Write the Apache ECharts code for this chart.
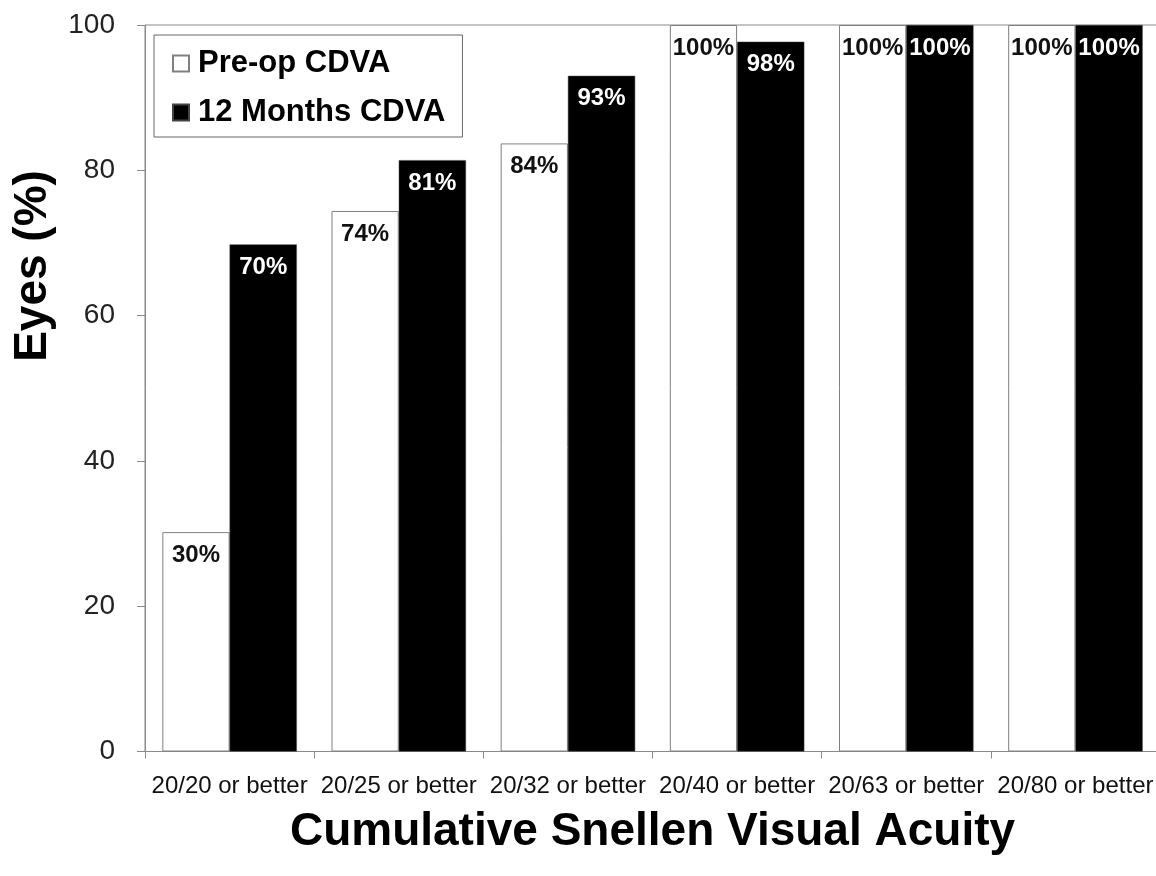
<!DOCTYPE html>
<html>
<head>
<meta charset="utf-8">
<script src="https://cdn.jsdelivr.net/npm/echarts@6/dist/echarts.min.js"></script>
<style>
html,body{margin:0;padding:0;background:#fff;}
#chart{width:1156px;height:876px;}
</style>
</head>
<body>
<div id="chart"></div>
<script>
const categories = ['20/20 or better', '20/25 or better', '20/32 or better', '20/40 or better', '20/63 or better', '20/80 or better'];
const preopValues = [30.2, 74.4, 83.7, 100, 100, 100];
const months12Values = [69.8, 81.4, 93.0, 97.7, 100, 100];
const seriesNames = ['Pre-op CDVA', '12 Months CDVA'];
const yTitle = 'Eyes (%)';
const xTitle = 'Cumulative Snellen Visual Acuity';

const FONT = '"Liberation Sans", Arial, Helvetica, sans-serif';
const chart = echarts.init(document.getElementById('chart'), null, {renderer: 'canvas'});

const option = {
  backgroundColor: '#fff',
  animation: false,
  grid: {
    left: 145, top: 25, width: 1015, height: 726.5,
    containLabel: false,
    outerBoundsMode: 'none',
    show: true, borderColor: '#8a8a8a', borderWidth: 1, backgroundColor: 'transparent'
  },
  legend: {
    orient: 'vertical',
    left: 154, top: 35,
    padding: [13, 17, 9, 18],
    itemGap: 18,
    itemWidth: 16, itemHeight: 16,
    icon: 'rect',
    borderColor: '#666', borderWidth: 1,
    textStyle: {fontFamily: FONT, fontSize: 31, fontWeight: 'bold', color: '#000', padding: [0, 0, 0, 4]},
    data: seriesNames
  },
  xAxis: {
    type: 'category',
    data: categories,
    axisLine: {lineStyle: {color: '#8a8a8a', width: 1}},
    axisTick: {show: true, length: 7, lineStyle: {color: '#8a8a8a'}},
    axisLabel: {fontFamily: FONT, fontSize: 24, color: '#111', margin: 23, interval: 0},
    name: xTitle,
    nameLocation: 'middle',
    nameGap: 58,
    nameTextStyle: {fontFamily: FONT, fontSize: 46, fontWeight: 'bold', color: '#000'}
  },
  yAxis: {
    type: 'value',
    min: 0, max: 100, interval: 20,
    axisLine: {show: true, lineStyle: {color: '#8a8a8a', width: 1}},
    axisTick: {show: true, length: 8, lineStyle: {color: '#8a8a8a'}},
    splitLine: {show: false},
    axisLabel: {fontFamily: FONT, fontSize: 28, color: '#222', margin: 30}
  },
  graphic: [{
    type: 'text',
    x: 33, y: 266,
    rotation: Math.PI / 2,
    style: {
      text: yTitle,
      font: 'bold 46px ' + FONT,
      fill: '#000',
      align: 'center', verticalAlign: 'middle',
      textAlign: 'center', textVerticalAlign: 'middle'
    }
  }],
  series: [
    {
      name: seriesNames[0],
      type: 'bar',
      data: preopValues,
      barGap: '0%',
      barCategoryGap: '20.5%',
      itemStyle: {color: '#fff', borderColor: '#808080', borderWidth: 1},
      label: {
        show: true, position: 'insideTop', distance: 11,
        fontFamily: FONT, fontSize: 24, fontWeight: 'bold', color: '#111',
        formatter: p => Math.round(p.value) + '%'
      }
    },
    {
      name: seriesNames[1],
      type: 'bar',
      data: months12Values,
      barGap: '0%',
      barCategoryGap: '20.5%',
      itemStyle: {color: '#000', borderColor: '#444', borderWidth: 0.5},
      label: {
        show: true, position: 'insideTop', distance: 11,
        fontFamily: FONT, fontSize: 24, fontWeight: 'bold', color: '#fff',
        formatter: p => Math.round(p.value) + '%'
      }
    }
  ]
};
chart.setOption(option);
</script>
</body>
</html>
